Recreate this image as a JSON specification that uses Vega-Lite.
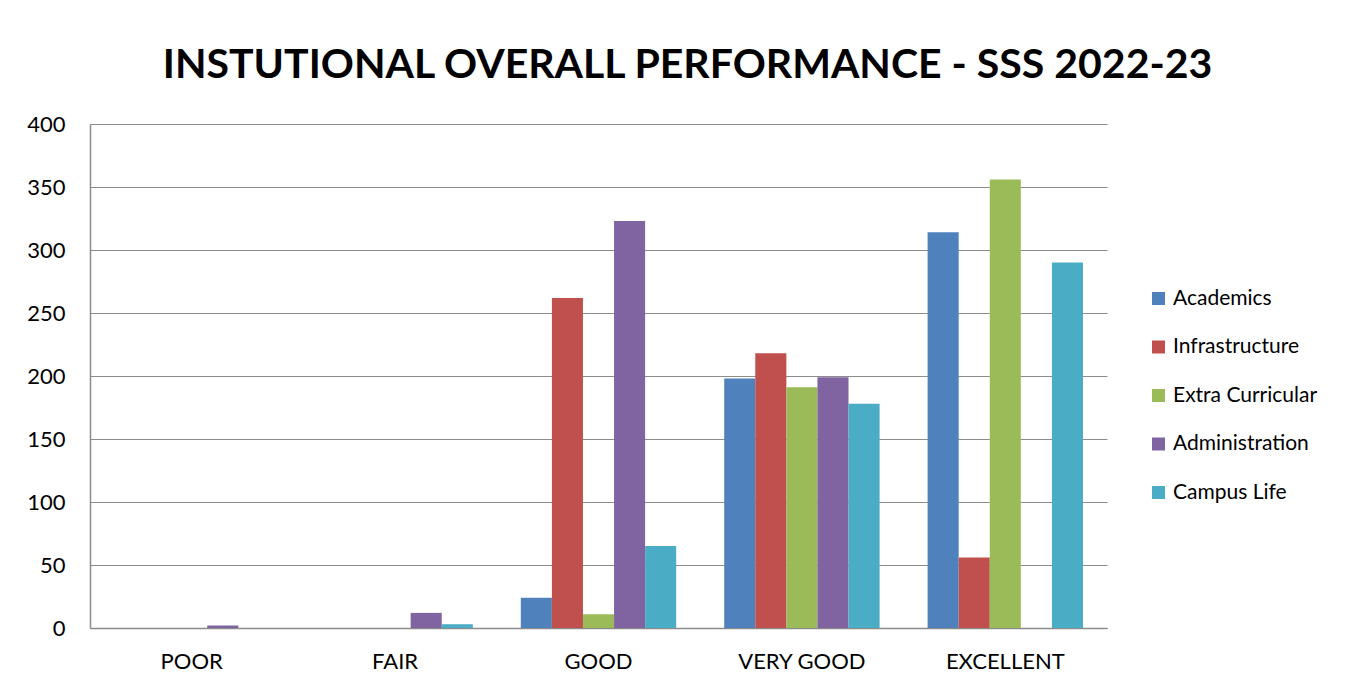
{
  "$schema": "https://vega.github.io/schema/vega-lite/v6.json",
  "width": 1017,
  "height": 504,
  "autosize": "none",
  "padding": {"left": 90, "top": 124, "right": 263, "bottom": 61},
  "background": "white",
  "config": {"view": {"stroke": null}, "font": "Lato"},
  "title": {
    "text": "INSTUTIONAL OVERALL PERFORMANCE - SSS 2022-23",
    "font": "Lato",
    "fontSize": 41,
    "fontWeight": "bold",
    "color": "black",
    "anchor": "middle",
    "dx": 89,
    "baseline": "alphabetic",
    "offset": -6
  },
  "data": {
    "values": [
      {"rating": "POOR", "aspect": "Academics", "count": 0},
      {"rating": "POOR", "aspect": "Infrastructure", "count": 0},
      {"rating": "POOR", "aspect": "Extra Curricular", "count": 0},
      {"rating": "POOR", "aspect": "Administration", "count": 2},
      {"rating": "POOR", "aspect": "Campus Life", "count": 0},
      {"rating": "FAIR", "aspect": "Academics", "count": 0},
      {"rating": "FAIR", "aspect": "Infrastructure", "count": 0},
      {"rating": "FAIR", "aspect": "Extra Curricular", "count": 0},
      {"rating": "FAIR", "aspect": "Administration", "count": 12},
      {"rating": "FAIR", "aspect": "Campus Life", "count": 3},
      {"rating": "GOOD", "aspect": "Academics", "count": 24},
      {"rating": "GOOD", "aspect": "Infrastructure", "count": 262},
      {"rating": "GOOD", "aspect": "Extra Curricular", "count": 11},
      {"rating": "GOOD", "aspect": "Administration", "count": 323},
      {"rating": "GOOD", "aspect": "Campus Life", "count": 65},
      {"rating": "VERY GOOD", "aspect": "Academics", "count": 198},
      {"rating": "VERY GOOD", "aspect": "Infrastructure", "count": 218},
      {"rating": "VERY GOOD", "aspect": "Extra Curricular", "count": 191},
      {"rating": "VERY GOOD", "aspect": "Administration", "count": 199},
      {"rating": "VERY GOOD", "aspect": "Campus Life", "count": 178},
      {"rating": "EXCELLENT", "aspect": "Academics", "count": 314},
      {"rating": "EXCELLENT", "aspect": "Infrastructure", "count": 56},
      {"rating": "EXCELLENT", "aspect": "Extra Curricular", "count": 356},
      {"rating": "EXCELLENT", "aspect": "Administration", "count": 0},
      {"rating": "EXCELLENT", "aspect": "Campus Life", "count": 290}
    ]
  },
  "mark": {"type": "bar"},
  "encoding": {
    "x": {
      "field": "rating",
      "type": "nominal",
      "sort": ["POOR", "FAIR", "GOOD", "VERY GOOD", "EXCELLENT"],
      "scale": {"paddingInner": 0.236, "paddingOuter": 0.118},
      "axis": {
        "title": null,
        "labelAngle": 0,
        "labelFontSize": 22,
        "labelColor": "black",
        "labelPadding": 23,
        "ticks": false,
        "domainColor": "#8c8c8c",
        "domainWidth": 1.5
      }
    },
    "xOffset": {
      "field": "aspect",
      "type": "nominal",
      "sort": ["Academics", "Infrastructure", "Extra Curricular", "Administration", "Campus Life"],
      "scale": {"paddingInner": 0, "paddingOuter": 0}
    },
    "y": {
      "field": "count",
      "type": "quantitative",
      "scale": {"domain": [0, 400]},
      "axis": {
        "title": null,
        "values": [0, 50, 100, 150, 200, 250, 300, 350, 400],
        "labelFontSize": 22,
        "labelColor": "black",
        "labelPadding": 25,
        "ticks": false,
        "domainColor": "#8c8c8c",
        "domainWidth": 1.5,
        "gridColor": "#8c8c8c",
        "gridWidth": 1.2
      }
    },
    "color": {
      "field": "aspect",
      "type": "nominal",
      "sort": ["Academics", "Infrastructure", "Extra Curricular", "Administration", "Campus Life"],
      "scale": {"range": ["#4F81BD", "#C0504D", "#9BBB59", "#8064A2", "#4BACC6"]},
      "legend": {
        "title": null,
        "orient": "none",
        "legendX": 1058,
        "legendY": 164,
        "symbolType": "square",
        "symbolSize": 169,
        "symbolStrokeWidth": 0,
        "labelFontSize": 21,
        "labelColor": "black",
        "labelOffset": 4,
        "rowPadding": 26.5
      }
    }
  }
}
